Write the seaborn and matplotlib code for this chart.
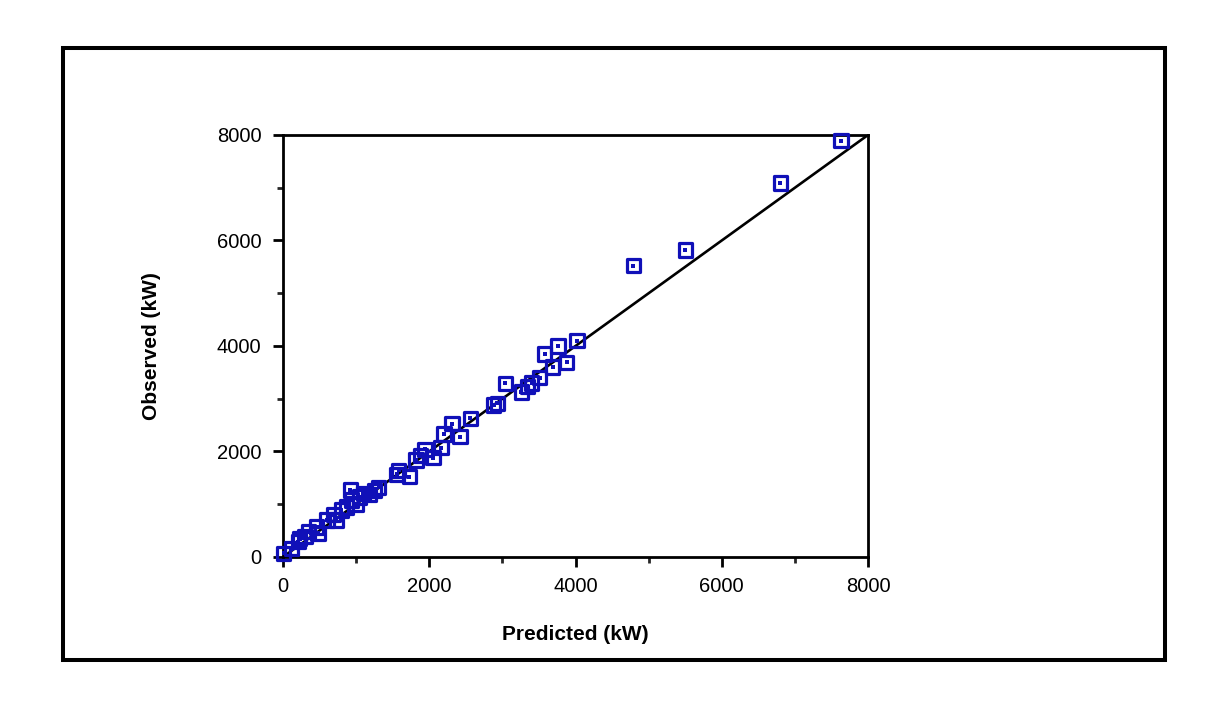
import matplotlib
matplotlib.use("Agg")
import matplotlib.pyplot as plt
import seaborn as sns
import pandas as pd
from matplotlib.patches import Rectangle
from matplotlib.ticker import MultipleLocator

predicted = [10, 120, 210, 230, 300, 350, 460, 480, 600, 690, 730, 800, 870, 920, 940,
             1000, 1050, 1100, 1180, 1250, 1310, 1560, 1580, 1730, 1820, 1880, 1940, 2050,
             2160, 2200, 2310, 2420, 2560, 2880, 2930, 3040, 3260, 3340, 3400, 3510, 3580,
             3690, 3760, 3880, 4020, 4790, 5500, 6800, 7630]
observed = [70, 160, 290, 350, 390, 480, 570, 450, 700, 800, 700, 890, 950, 1270, 1080,
            1000, 1140, 1200, 1180, 1260, 1320, 1570, 1640, 1520, 1840, 1930, 2040, 1880,
            2070, 2330, 2530, 2280, 2630, 2880, 2910, 3290, 3130, 3230, 3300, 3400, 3850,
            3600, 4000, 3690, 4100, 5520, 5820, 7090, 7890]
line_x = [0, 8000]
line_y = [0, 8000]
ticks = [0, 2000, 4000, 6000, 8000]

df = pd.DataFrame({"Predicted": predicted, "Observed": observed})

sns.set_style("white")
plt.rcParams['font.family'] = ['Liberation Sans', 'DejaVu Sans']

fig = plt.figure(figsize=(12.25, 7.03), dpi=100)
ax = fig.add_axes([0.231, 0.2077, 0.4776, 0.6003])

blue = "#1010b8"
sns.lineplot(x=line_x, y=line_y, ax=ax, color="black", linewidth=1.9, zorder=3)
sns.scatterplot(data=df, x="Predicted", y="Observed", ax=ax, marker="s", s=92,
                facecolor="none", edgecolor=blue, linewidth=2.3, zorder=4)
sns.scatterplot(data=df, x="Predicted", y="Observed", ax=ax, marker="s", s=7,
                color=blue, edgecolor=blue, linewidth=0, zorder=5)

ax.set_xlim(0, 8000)
ax.set_ylim(0, 8000)
ax.set_xticks(ticks)
ax.set_yticks(ticks)
ax.xaxis.set_minor_locator(MultipleLocator(1000))
ax.yaxis.set_minor_locator(MultipleLocator(1000))
ax.tick_params(which="major", direction="out", length=7.5, width=2, labelsize=14.5,
               bottom=True, left=True, colors="black")
ax.tick_params(axis="x", which="major", pad=7)
ax.tick_params(axis="y", which="major", pad=8)
ax.tick_params(which="minor", direction="out", length=4.5, width=2, bottom=True, left=True)
for sp in ax.spines.values():
    sp.set_visible(True)
    sp.set_linewidth(2)
    sp.set_color("black")

ax.set_xlabel("Predicted (kW)", fontsize=15, fontweight="bold", labelpad=21, color="black")
ax.set_ylabel("Observed (kW)", fontsize=15, fontweight="bold", labelpad=40, color="black")
ax.set_facecolor("white")
for c in ax.collections:
    c.set_clip_on(False)

fig.patches.append(Rectangle((0.0514, 0.0612), 0.8996, 0.8706, transform=fig.transFigure,
                             fill=False, edgecolor="black", linewidth=2.9))

fig.savefig("out.png", dpi=100, facecolor="white")
